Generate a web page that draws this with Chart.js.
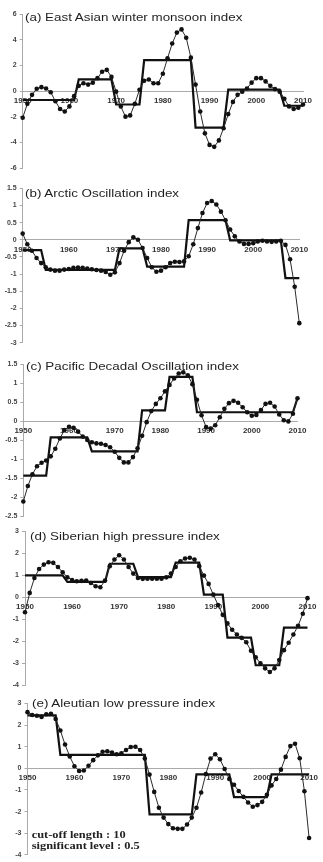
<!DOCTYPE html>
<html><head><meta charset="utf-8">
<script src="https://cdn.jsdelivr.net/npm/chart.js@4.4.0/dist/chart.umd.min.js"></script>
<style>
html,body{margin:0;padding:0;background:#fff;width:323px;height:862px;overflow:hidden;position:relative;}
canvas{position:absolute;left:0;}
.t{position:absolute;font-family:"Liberation Sans",Arial,sans-serif;font-size:13.4px;line-height:13.4px;color:#1e1e1e;white-space:nowrap;transform-origin:0 11.34px;transform:scaleY(0.82);}
.n{position:absolute;font-family:"Liberation Serif","Times New Roman",serif;font-weight:bold;font-size:12.4px;line-height:12.4px;color:#222;white-space:nowrap;transform-origin:0 10.4px;transform:scaleY(0.78);}
</style></head>
<body>
<div class="t" style="left:25px;top:9.7px">(a) East Asian winter monsoon index</div>
<div class="t" style="left:25px;top:186.2px">(b) Arctic Oscillation index</div>
<div class="t" style="left:26px;top:358.7px">(c) Pacific Decadal Oscillation index</div>
<div class="t" style="left:30px;top:529.4px">(d) Siberian high pressure index</div>
<div class="t" style="left:32px;top:696px">(e) Aleutian low pressure index</div>
<div class="n" style="left:31.7px;top:828.2px">cut-off length : 10</div>
<div class="n" style="left:31.7px;top:839.2px">significant level : 0.5</div>
<script>
const years = [1950,1951,1952,1953,1954,1955,1956,1957,1958,1959,
1960,1961,1962,1963,1964,1965,1966,1967,1968,1969,
1970,1971,1972,1973,1974,1975,1976,1977,1978,1979,
1980,1981,1982,1983,1984,1985,1986,1987,1988,1989,
1990,1991,1992,1993,1994,1995,1996,1997,1998,1999,
2000,2001,2002,2003,2004,2005,2006,2007,2008,2009,2010];

const xTicks = [1950,1960,1970,1980,1990,2000,2010];

// (a) East Asian winter monsoon index
const eawmIndex = [-2.08,-1.0,-0.3,0.18,0.3,0.2,-0.1,-0.8,-1.4,-1.6,
-1.2,-0.4,0.4,0.6,0.5,0.65,1.0,1.5,1.65,1.1,
-0.05,-1.2,-2.0,-1.9,-1.0,0.1,0.8,0.9,0.6,0.6,
1.35,2.55,3.7,4.55,4.8,4.15,2.6,0.5,-1.6,-3.3,
-4.2,-4.35,-3.85,-2.9,-1.8,-0.85,-0.3,-0.05,0.2,0.65,
1.0,1.0,0.75,0.4,0.15,-0.05,-0.6,-1.2,-1.4,-1.3,-1.05];
const eawmRegime = [-0.7,-0.7,-0.7,-0.7,-0.7,-0.7,-0.7,-0.7,-0.7,-0.7,
-0.7,-0.7,0.9,0.9,0.9,0.9,0.9,0.9,0.9,0.9,
-1.05,-1.05,-1.05,-1.05,-1.05,-1.05,2.4,2.4,2.4,2.4,
2.4,2.4,2.4,2.4,2.4,2.4,2.4,-2.85,-2.85,-2.85,
-2.85,-2.85,-2.85,-2.85,0.1,0.1,0.1,0.1,0.1,0.1,
0.1,0.1,0.1,0.1,0.1,0.1,-1.15,-1.15,-1.15,-1.15,-1.15];

// (b) Arctic Oscillation index
const aoIndex = [0.18,-0.13,-0.32,-0.53,-0.68,-0.8,-0.87,-0.9,-0.9,-0.87,
-0.85,-0.82,-0.81,-0.82,-0.84,-0.86,-0.88,-0.9,-0.94,-1.02,
-0.95,-0.68,-0.32,-0.07,0.07,0.0,-0.24,-0.53,-0.8,-0.93,
-0.9,-0.8,-0.68,-0.64,-0.65,-0.63,-0.48,-0.13,0.34,0.78,
1.07,1.13,1.03,0.82,0.57,0.3,0.1,-0.05,-0.12,-0.12,
-0.1,-0.05,-0.03,-0.05,-0.06,-0.05,-0.03,-0.15,-0.57,-1.37,-2.43];
const aoRegime = [-0.3,-0.3,-0.3,-0.3,-0.3,-0.88,-0.88,-0.88,-0.88,-0.88,
-0.88,-0.88,-0.88,-0.88,-0.88,-0.88,-0.88,-0.88,-0.88,-0.88,
-0.88,-0.25,-0.25,-0.25,-0.25,-0.25,-0.25,-0.78,-0.78,-0.78,
-0.78,-0.78,-0.78,-0.78,-0.78,-0.78,0.57,0.57,0.57,0.57,
0.57,0.57,0.57,0.57,0.57,-0.02,-0.02,-0.02,-0.02,-0.02,
-0.02,-0.02,-0.02,-0.02,-0.02,-0.02,-0.02,-1.12,-1.12,-1.12,-1.12];

// (c) Pacific Decadal Oscillation index
const pdoIndex = [-2.12,-1.71,-1.4,-1.19,-1.1,-1.04,-0.93,-0.73,-0.46,-0.24,
-0.15,-0.18,-0.28,-0.41,-0.5,-0.56,-0.59,-0.6,-0.63,-0.69,
-0.81,-0.97,-1.09,-1.09,-0.95,-0.72,-0.39,-0.03,0.26,0.45,
0.6,0.78,0.95,1.12,1.25,1.28,1.2,0.97,0.56,0.15,
-0.16,-0.2,-0.11,0.1,0.32,0.47,0.53,0.48,0.36,0.23,
0.14,0.16,0.29,0.45,0.48,0.38,0.17,0.02,-0.01,0.19,0.6];
const pdoRegime = [-1.44,-1.44,-1.44,-1.44,-1.44,-1.44,-0.43,-0.43,-0.43,-0.43,
-0.43,-0.43,-0.43,-0.43,-0.43,-0.8,-0.8,-0.8,-0.8,-0.8,
-0.8,-0.8,-0.8,-0.8,-0.8,-0.8,0.28,0.28,0.28,0.28,
0.28,0.28,1.16,1.16,1.16,1.16,1.16,1.16,0.23,0.23,
0.23,0.23,0.23,0.23,0.23,0.23,0.23,0.23,0.23,0.23,
0.23,0.23,0.23,0.23,0.23,0.23,0.23,0.23,0.23,0.23,0.6];

// (d) Siberian high pressure index
const shIndex = [-0.68,0.2,0.88,1.29,1.49,1.6,1.57,1.38,1.14,0.91,
0.79,0.73,0.75,0.76,0.65,0.5,0.46,0.76,1.42,1.72,
1.92,1.72,1.38,1.08,0.88,0.84,0.85,0.85,0.85,0.85,
0.91,1.08,1.38,1.64,1.77,1.8,1.72,1.42,0.99,0.61,
0.12,-0.35,-0.8,-1.19,-1.48,-1.7,-1.85,-2.05,-2.44,-2.74,
-3.01,-3.24,-3.41,-3.24,-2.86,-2.41,-2.07,-1.7,-1.3,-0.75,-0.04];
const shRegime = [1.0,1.0,1.0,1.0,1.0,1.0,1.0,1.0,1.0,0.7,
0.7,0.7,0.7,0.7,0.7,0.7,0.7,0.7,1.53,1.53,
1.53,1.53,1.53,1.53,0.92,0.92,0.92,0.92,0.92,0.92,
0.92,0.92,1.58,1.58,1.58,1.58,1.58,1.58,0.12,0.12,
0.12,0.12,0.12,-1.84,-1.84,-1.84,-1.84,-1.84,-1.84,-3.1,
-3.1,-3.1,-3.1,-3.1,-3.1,-1.38,-1.38,-1.38,-1.38,-1.38,-1.38];

// (e) Aleutian low pressure index
const alIndex = [2.6,2.47,2.43,2.38,2.5,2.52,2.28,1.75,1.1,0.55,
0.1,-0.12,-0.1,0.12,0.38,0.6,0.77,0.79,0.73,0.65,
0.7,0.85,0.99,1.0,0.85,0.45,-0.29,-1.09,-1.82,-2.28,
-2.58,-2.77,-2.8,-2.8,-2.6,-2.28,-1.82,-1.12,-0.26,0.45,
0.65,0.42,-0.03,-0.49,-0.76,-1.05,-1.32,-1.58,-1.78,-1.7,
-1.55,-1.22,-0.79,-0.49,-0.06,0.53,1.03,1.14,0.47,-1.06,-3.22];
const alRegime = [2.45,2.45,2.45,2.45,2.45,2.45,2.45,0.62,0.62,0.62,
0.62,0.62,0.62,0.62,0.62,0.62,0.62,0.62,0.62,0.62,
0.62,0.62,0.62,0.62,0.62,0.62,-2.13,-2.13,-2.13,-2.13,
-2.13,-2.13,-2.13,-2.13,-2.13,-2.13,-0.28,-0.28,-0.28,-0.28,
-0.28,-0.28,-0.28,-0.28,-1.33,-1.33,-1.33,-1.33,-1.33,-1.33,
-1.33,-1.33,-0.28,-0.28,-0.28,-0.28,-0.28,-0.28,-0.28,-0.28,-0.28];

const yTicksA = [-6,-4,-2,0,2,4,6];
const yTicksB = [-3,-2.5,-2,-1.5,-1,-0.5,0,0.5,1,1.5];
const yTicksC = [-2.5,-2,-1.5,-1,-0.5,0,0.5,1,1.5];
const yTicksD = [-4,-3,-2,-1,0,1,2,3];
const yTicksE = [-4,-3,-2,-1,0,1,2,3];

Chart.defaults.font.family = '"Liberation Sans", Arial, sans-serif';

const panels = [
  {top:0,   h:178, area:[22.7,303,14,168],     yt:yTicksA, data:eawmIndex, step:eawmRegime},
  {top:178, h:174, area:[22.7,299.3,188.3,342.7], yt:yTicksB, data:aoIndex, step:aoRegime},
  {top:352, h:172, area:[23.3,297.5,364,516],  yt:yTicksC, data:pdoIndex, step:pdoRegime},
  {top:524, h:170, area:[25,307.5,531.5,685],  yt:yTicksD, data:shIndex, step:shRegime},
  {top:694, h:168, area:[27.5,310,703.5,857],  yt:yTicksE, data:alIndex, step:alRegime}
];

function makeChart(p){
  const cv = document.createElement('canvas');
  cv.width = 323; cv.height = p.h;
  cv.style.top = p.top + 'px'; cv.style.width = '323px'; cv.style.height = p.h + 'px';
  document.body.insertBefore(cv, document.body.firstChild);
  const [L,R,T,B] = p.area;
  const yMin = p.yt[0], yMax = p.yt[p.yt.length-1];
  new Chart(cv, {
    type: 'line',
    data: { datasets: [
      { data: years.map((yr,i)=>({x:yr, y:p.data[i]})), borderColor:'#2a2a2a', borderWidth:1,
        pointRadius:2.3, pointBackgroundColor:'#111', pointBorderWidth:0, pointHoverRadius:0,
        tension:0, clip:false, order:0 },
      { data: years.map((yr,i)=>({x:yr, y:p.step[i]})), borderColor:'#111', borderWidth:2.2,
        pointRadius:0, tension:0, clip:false, order:1 }
    ]},
    options: {
      responsive:false, animation:false, devicePixelRatio:1, events:[],
      layout:{ padding:{ left:0, right:323-R, top:T-p.top, bottom:p.top+p.h-B } },
      plugins:{ legend:{display:false}, tooltip:{enabled:false} },
      scales:{
        x:{ type:'linear', position:{y:0}, min:xTicks[0], max:xTicks[xTicks.length-1],
            afterBuildTicks: s => { s.ticks = xTicks.map(v=>({value:v})); },
            ticks:{ autoSkip:false, maxRotation:0, padding:5, color:'#333', font:{size:8, weight:'bold'},
                    callback: v => String(v) },
            grid:{ drawOnChartArea:false, drawTicks:false, color:'#aaa' },
            border:{ color:'#aaa', width:1 } },
        y:{ type:'linear', min:yMin, max:yMax,
            afterBuildTicks: s => { s.ticks = p.yt.map(v=>({value:v})); },
            ticks:{ padding:3, color:'#444', font:{size:7, weight:'bold'}, callback: v => String(v) },
            grid:{ drawOnChartArea:false, tickLength:3, color:'#aaa' },
            border:{ color:'#aaa', width:1 },
            afterFit: s => { s.width = L; } }
      }
    }
  });
}
panels.forEach(makeChart);
</script>
</body></html>
